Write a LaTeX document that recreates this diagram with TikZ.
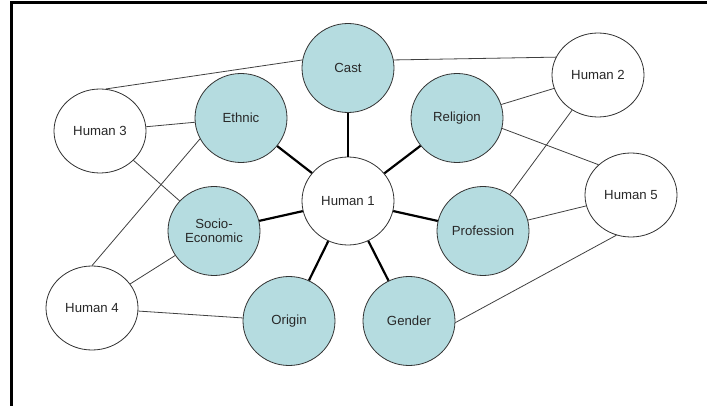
\documentclass[tikz,border=0pt]{standalone}
\usepackage{fontspec}
\setmainfont{Liberation Sans}
\usetikzlibrary{shapes.geometric}
\definecolor{atrib}{RGB}{181,220,224}
\definecolor{texto}{RGB}{40,40,40}
\begin{document}
\begin{tikzpicture}[x=1pt,y=-1pt,
  human/.style={ellipse,draw=black!80,line width=0.8pt,fill=white,
    minimum width=92pt,minimum height=84pt,inner sep=0pt,
    text=texto,font=\fontsize{13.2}{14.5}\selectfont,align=center},
  atributo/.style={human,fill=atrib,minimum height=89pt},
  debil/.style={black!75,line width=0.8pt},
  fuerte/.style={black,line width=2.2pt}]
  \useasboundingbox (0,0) rectangle (707,406);

  % Marco
  \draw[line width=3pt] (11,406) -- (11,2.5) -- (707,2.5);

  % Atributos
  \node[atributo] (cast) at (348,68) {Cast};
  \node[atributo] (ethnic) at (241,118) {Ethnic};
  \node[atributo] (religion) at (457,118) {Religion};
  \node[atributo] (socio) at (214,231) {Socio-\\Economic};
  \node[atributo] (profession) at (483,231) {Profession};
  \node[atributo] (origin) at (289,321) {Origin};
  \node[atributo] (gender) at (409,321) {Gender};

  % Personas
  \node[human,minimum height=88pt] (h1) at (348,201) {Human 1};
  \node[human] (h2) at (598,75) {Human 2};
  \node[human] (h3) at (100,131) {Human 3};
  \node[human] (h4) at (92,308) {Human 4};
  \node[human] (h5) at (631,195) {Human 5};

  % Aristas fuertes
  \foreach \a in {cast,ethnic,religion,socio,profession,origin,gender}
    \draw[fuerte] (h1) -- (\a);

  % Aristas debiles
  \draw[debil] (cast.170) -- (h3.82);
  \draw[debil] (cast.10) -- (h2.157);
  \draw[debil] (h3) -- (ethnic);
  \draw[debil] (h3) -- (socio);
  \draw[debil] (ethnic.207) -- (h4.90);
  \draw[debil] (socio) -- (h4);
  \draw[debil] (h4) -- (origin);
  \draw[debil] (religion) -- (h2);
  \draw[debil] (religion.-13) -- (h5.137);
  \draw[debil] (h2) -- (profession);
  \draw[debil] (profession) -- (h5);
  \draw[debil] (gender.-2) -- (h5.250);
\end{tikzpicture}
\end{document}
